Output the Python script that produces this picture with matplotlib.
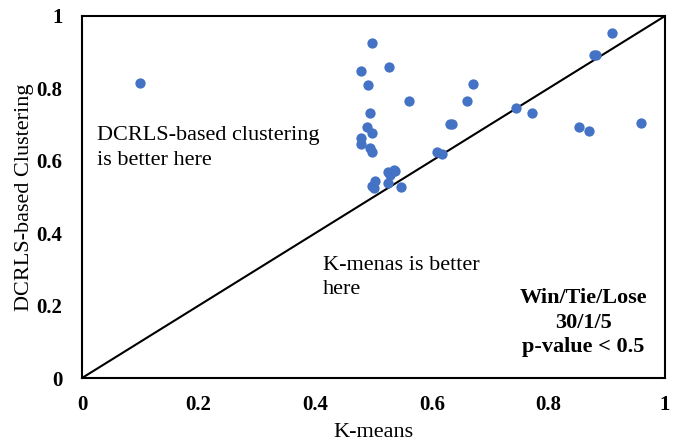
import matplotlib
matplotlib.use('Agg')
from matplotlib import pyplot as plt

kmeans = [0.099, 0.497, 0.479, 0.526, 0.490, 0.671, 0.561, 0.660, 0.494,
          0.745, 0.772, 0.909, 0.878, 0.882, 0.632, 0.635, 0.488, 0.497,
          0.479, 0.479, 0.494, 0.497, 0.609, 0.618, 0.852, 0.870, 0.958,
          0.525, 0.535, 0.529, 0.524, 0.498, 0.503, 0.500, 0.547, 0.536]
dcrls = [0.815, 0.924, 0.849, 0.858, 0.808, 0.811, 0.765, 0.764, 0.731,
         0.747, 0.731, 0.952, 0.892, 0.892, 0.702, 0.701, 0.692, 0.677,
         0.663, 0.646, 0.634, 0.623, 0.623, 0.619, 0.694, 0.683, 0.705,
         0.568, 0.575, 0.561, 0.539, 0.531, 0.544, 0.524, 0.527, 0.572]

ticks = [0, 0.2, 0.4, 0.6, 0.8, 1]
tick_labels = ['0', '0.2', '0.4', '0.6', '0.8', '1']

plt.rcParams['font.family'] = ['Liberation Serif', 'DejaVu Serif']

fig = plt.figure(figsize=(6.8, 4.44), dpi=100)
ax = fig.add_axes([0.1206, 0.1486, 0.8574, 0.8154])

ax.plot([0, 1], [0, 1], color='black', linewidth=1.5, zorder=1)
ax.scatter(kmeans, dcrls, s=55, color='#4472C4', zorder=2, linewidths=0)

ax.set_xlim(0, 1)
ax.set_ylim(0, 1)
ax.set_xticks(ticks)
ax.set_xticklabels(tick_labels, fontsize=15, fontweight='bold')
ax.set_yticks(ticks)
ax.set_yticklabels(tick_labels, fontsize=15, fontweight='bold')
ax.tick_params(axis='x', length=0, pad=12)
ax.tick_params(axis='y', length=0, pad=14)
for sp in ax.spines.values():
    sp.set_linewidth(1.5)

ax.set_xlabel('K-means', fontsize=16, labelpad=6)
ax.set_ylabel('DCRLS-based Clustering', fontsize=16, labelpad=2)

ax.text(0.026, 0.695, 'DCRLS-based clustering\nis better here', fontsize=16,
        va='top', ha='left', linespacing=1.4)
ax.text(0.413, 0.338, 'K-menas is better\nhere', fontsize=16,
        va='top', ha='left', linespacing=1.4)
ax.text(0.86, 0.248, 'Win/Tie/Lose\n30/1/5\np-value < 0.5', fontsize=16,
        fontweight='bold', va='top', ha='center', linespacing=1.3)

fig.savefig('out.png', dpi=100)
